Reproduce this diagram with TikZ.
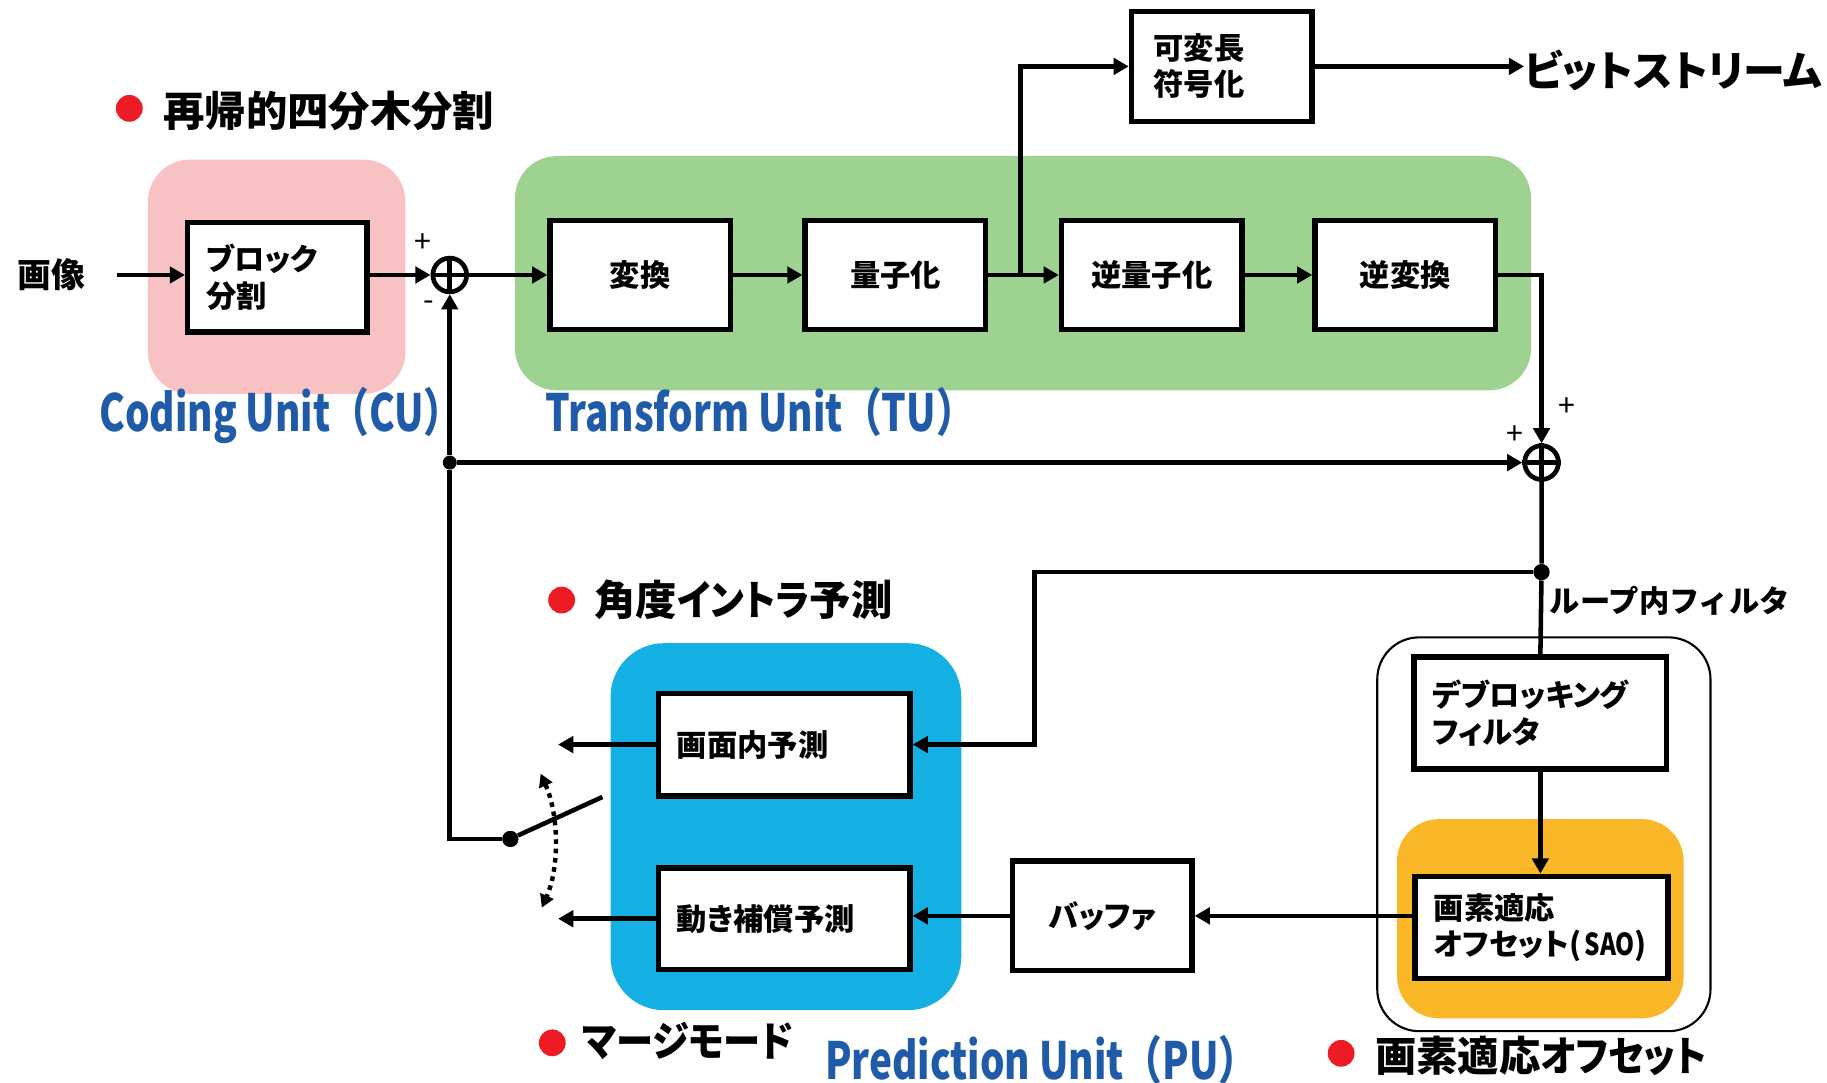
\documentclass[tikz,border=0pt]{standalone}
\usepackage{fontspec}
\setmainfont{Noto Sans CJK JP}
\newfontfamily\jpp{Noto Sans CJK JP}[RawFeature=+palt]
\newfontfamily\lab{Noto Sans CJK JP}[FakeStretch=0.755]
\newfontfamily\labn{Noto Sans CJK JP}[FakeStretch=0.8]
\usetikzlibrary{arrows.meta}
\definecolor{pinkc}{HTML}{F8C1C4}
\definecolor{greenc}{HTML}{9DD290}
\definecolor{bluec}{HTML}{14AFE3}
\definecolor{orangec}{HTML}{FAB727}
\definecolor{bred}{HTML}{ED1C24}
\definecolor{ublue}{HTML}{1F5BA8}
\newcommand{\kn}[1]{\scalebox{0.9}[1]{#1}}
\tikzset{
  blk/.style={draw, line width=4.6pt, fill=white, minimum height=94pt, inner xsep=16pt,
    font=\jpp\fontsize{26}{31}\selectfont\bfseries},
  lblk/.style={blk, text width=#1, align=left},
  ln/.style={line width=3.9pt},
  arr/.style={ln, -{Triangle[length=13pt,width=14pt]}},
  sumc/.style={circle, draw, line width=4pt, minimum size=29pt, inner sep=0pt},
  jdot/.style={circle, fill, inner sep=0pt, minimum size=12pt},
  bullet/.style={circle, fill=bred, inner sep=0pt, minimum size=23pt},
  head/.style={font=\jpp\fontsize{35.5}{40}\selectfont\bfseries, anchor=west, inner sep=0pt},
  unitlab/.style={font=\lab\fontsize{44}{50}\selectfont\bfseries, text=ublue, anchor=west, inner sep=0pt},
  pm/.style={font=\fontsize{26}{28}\selectfont, inner sep=0pt},
  plain/.style={inner sep=0pt, font=\fontsize{29}{32}\selectfont\bfseries},
}
\begin{document}
\begin{tikzpicture}[x=1pt,y=-1pt]
\useasboundingbox (0,0) rectangle (1568,929);
% background regions
\fill[pinkc, rounded corners=36pt] (127,137) rectangle (348,338);
\fill[greenc, rounded corners=36pt] (442,134) rectangle (1314,335);
\fill[bluec, rounded corners=46pt] (524,552) rectangle (825,867);
\draw[line width=1.8pt, rounded corners=36pt] (1182,547) rectangle (1468,885);
\fill[orangec, rounded corners=36pt] (1199,703) rectangle (1445,874);

% headings
\node[bullet] (b1) at (111,93) {};
\node[head] (h1) at (140,95) {再帰的四分木分割};
\node[bullet] (b2) at (482,515) {};
\node[head] (h2) at (510,515) {角度\kn{イントラ}予測};
\node[bullet] (b3) at (474,895) {};
\node[head] (h3) at (500,893) {\kn{マージモード}};
\node[bullet] (b4) at (1151,904) {};
\node[head] (h4) at (1180,906) {画素適応\kn{オフセット}};

\node[unitlab] (cu) at (85,357) {Coding Unit（CU）};
\node[unitlab] (tu) at (468,354) {Transform Unit（TU）};
\node[unitlab] (pu) at (708,910) {Prediction Unit（PU）};

% blocks
\node[plain] (img) at (44,236) {画像};
\node[lblk=122pt] (bl) at (238,238) {ブロック\\分割};
\node[sumc] (s1) at (386,236) {};
\node[blk, minimum width=155pt] (hen) at (549.5,236) {変換};
\node[blk, minimum width=155pt] (ryo) at (768.5,236) {量子化};
\node[blk, minimum width=155pt] (gry) at (988.5,236) {逆量子化};
\node[blk, minimum width=155pt] (ghen) at (1206,236) {逆変換};
\node[lblk=117pt, inner xsep=19pt] (vlc) at (1048.5,57) {可変長\\符号化};
\node[plain, anchor=west, font=\jpp\fontsize{36}{40}\selectfont\bfseries] (bs) at (1308,60) {ビットストリーム};
\node[sumc] (s2) at (1323,397) {};
\node[lblk=184pt, minimum height=88pt] (intra) at (673,639) {画面内予測};
\node[lblk=184pt, minimum height=87pt] (inter) at (673,788.5) {動き補償予測};
\node[blk, minimum width=154pt] (buf) at (946,786) {バッファ};
\node[lblk=185pt, minimum height=96pt] (dbk) at (1322,612) {デブロッキング\\フィルタ};
\node[lblk=185pt, minimum height=88pt] (sao) at (1323,796) {画素適応\\オフセット(\hspace{3pt}{\labn SAO})};
\node[inner sep=0pt, anchor=west, font=\fontsize{26}{30}\selectfont\bfseries] (lpf) at (1330,516) {ループ内フィルタ};

% plus / minus signs
\node[pm] (p1) at (363,209) {+};
\node[pm] (m1) at (368,262) {-};
\node[pm] (p2) at (1345,349) {+};
\node[pm] (p3) at (1300,373) {+};

% sum crosses
\draw[line width=4pt] (s1.north) -- (s1.south) (s1.west) -- (s1.east);
\draw[line width=4pt] (s2.north) -- (s2.south) (s2.west) -- (s2.east);

% coordinates
\coordinate (imgout) at (100,236);
\coordinate (br) at (876,236);
\node[jdot] (j1) at (386,397) {};
\coordinate (c1) at (386,720);
\node[jdot, minimum size=14pt] (piv) at (438,720) {};
\coordinate (swe) at (517,684);
\coordinate (dtop) at (464,664);
\coordinate (dbot) at (465,779);
\coordinate (io) at (479,639);
\coordinate (mo) at (479,788.5);
\node[jdot, minimum size=14pt] (j2) at (1323,491) {};
\coordinate (k1) at (888,491);

% connectors
\draw[arr] (imgout) -- (bl.west |- imgout);
\draw[arr] (bl.east |- s1) -- (s1.west);
\draw[arr] (s1.east) -- (hen.west);
\draw[arr] (hen.east) -- (ryo.west);
\draw[arr] (ryo.east) -- (gry.west);
\draw[arr] (gry.east) -- (ghen.west);
\draw[arr] (br) |- (vlc.west);
\draw[arr] (vlc.east) -- (vlc.east -| bs.west);
\draw[arr] (ghen.east) -| (s2.north);
\draw[arr] (j1) -- (s2.west);
\draw[ln] (piv) -- (c1) -- (j1);
\draw[arr] (j1) -- (s1.south);
\draw[ln] (piv) -- (swe);
\draw[line width=3.8pt, dash pattern=on 4pt off 4pt,
  {Triangle[length=11pt,width=12pt]}-{Triangle[length=11pt,width=12pt]}]
  (dtop) .. controls (480,700) and (480,745) .. (dbot);
\draw[arr] (intra.west) -- (io);
\draw[arr] (inter.west) -- (mo);
\draw[ln] (s2.south) -- (j2) -- (dbk.north);
\draw[arr] (j2) -- (k1) |- (intra.east);
\draw[arr] (dbk.south) -- (dbk.south |- sao.north);
\draw[arr] (buf.east -| sao.west) -- (buf.east);
\draw[arr] (buf.west) -- (buf.west -| inter.east);
\end{tikzpicture}
\end{document}
